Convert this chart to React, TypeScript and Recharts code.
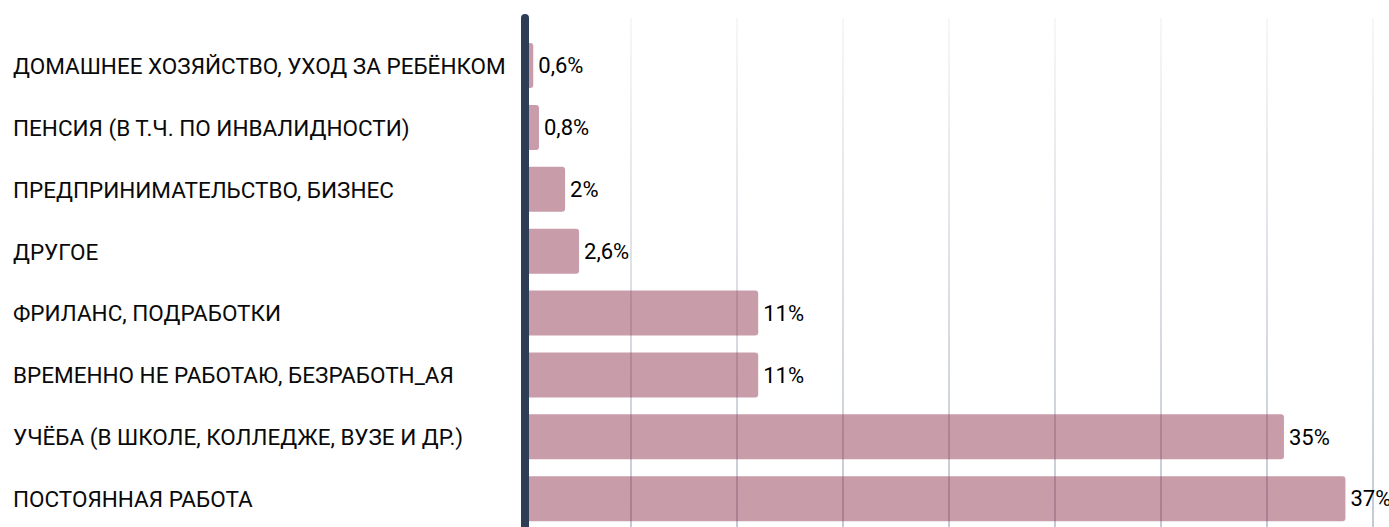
import {BarChart, Bar, XAxis, YAxis, CartesianGrid, LabelList} from 'recharts';

const categories = [
    'ДОМАШНЕЕ ХОЗЯЙСТВО, УХОД ЗА РЕБЁНКОМ',
    'ПЕНСИЯ (В Т.Ч. ПО ИНВАЛИДНОСТИ)',
    'ПРЕДПРИНИМАТЕЛЬСТВО, БИЗНЕС',
    'ДРУГОЕ',
    'ФРИЛАНС, ПОДРАБОТКИ',
    'ВРЕМЕННО НЕ РАБОТАЮ, БЕЗРАБОТН_АЯ',
    'УЧЁБА (В ШКОЛЕ, КОЛЛЕДЖЕ, ВУЗЕ И ДР.)',
    'ПОСТОЯННАЯ РАБОТА',
];

// bar lengths (percent)
const shares = [0.39, 0.66, 1.89, 2.55, 11, 11, 35.8, 38.7];

// labels printed next to the bars
const shareLabels = ['0,6%', '0,8%', '2%', '2,6%', '11%', '11%', '35%', '37%'];

const gridTicks = [0, 5, 10, 15, 20, 25, 30, 35, 40];

const data = categories.map((name, i) => ({name, value: shares[i], label: shareLabels[i]}));

const FONT = 'Roboto, "Noto Sans", sans-serif';

function CategoryTick({y, payload}: any) {
    return (
        <text x={13} y={y} dominantBaseline="central" textAnchor="start" fill="#0a0a0a" fontSize={22.5} fontFamily={FONT}>
            {payload.value}
        </text>
    );
}

export default function App() {
    return (
        <div style={{position: 'absolute', left: 0, top: 0}}>
            <BarChart
                layout="vertical"
                width={1389}
                height={530}
                data={data}
                margin={{top: 18, right: 16, bottom: 0, left: 0}}
            >
                <defs>
                    <linearGradient id="gridFade" gradientUnits="userSpaceOnUse" x1="0" y1="14" x2="0" y2="527">
                        <stop offset="0%" stopColor="#f6f7f8" />
                        <stop offset="100%" stopColor="#c4cad3" />
                    </linearGradient>
                </defs>
                <CartesianGrid horizontal={false} stroke="url(#gridFade)" strokeWidth={2} />
                <XAxis type="number" domain={[0, 40]} ticks={gridTicks} hide />
                <YAxis
                    type="category"
                    dataKey="name"
                    width={525}
                    tick={<CategoryTick />}
                    tickLine={false}
                    axisLine={{stroke: '#2c3d55', strokeWidth: 8, strokeLinecap: 'round'}}
                    padding={{top: 17, bottom: 0}}
                    interval={0}
                />
                <Bar
                    dataKey="value"
                    barSize={45}
                    fill="rgb(140,45,72)"
                    fillOpacity={0.47}
                    radius={3}
                    isAnimationActive={false}
                >
                    <LabelList
                        dataKey="label"
                        position="right"
                        offset={5}
                        fill="#000"
                        fontSize={22}
                        fontFamily={FONT}
                    />
                </Bar>
            </BarChart>
        </div>
    );
}
